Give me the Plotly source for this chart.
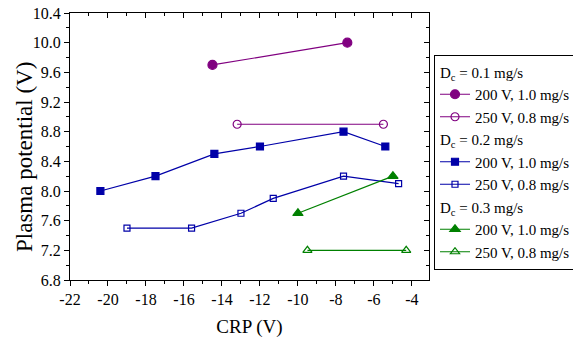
import plotly.graph_objects as go

# Data
p1_x = [-14.5, -7.4]
p1_y = [9.7, 10.0]
p2_x = [-13.2, -5.5]
p2_y = [8.9, 8.9]
b1_x = [-20.4, -17.5, -14.4, -12.0, -7.6, -5.4]
b1_y = [8.0, 8.2, 8.5, 8.6, 8.8, 8.6]
b2_x = [-19.0, -15.6, -13.0, -11.3, -7.6, -4.7]
b2_y = [7.5, 7.5, 7.7, 7.9, 8.2, 8.1]
g1_x = [-10.0, -5.0]
g1_y = [7.7, 8.2]
g2_x = [-9.5, -4.3]
g2_y = [7.2, 7.2]

x_tick_vals = [-22, -20, -18, -16, -14, -12, -10, -8, -6, -4]
x_tick_text = ["-22", "-20", "-18", "-16", "-14", "-12", "-10", "-8", "-6", "-4"]
y_tick_vals = [6.8, 7.2, 7.6, 8.0, 8.4, 8.8, 9.2, 9.6, 10.0, 10.4]
y_tick_text = ["6.8", "7.2", "7.6", "8.0", "8.4", "8.8", "9.2", "9.6", "10.0", "10.4"]

groups = ["D<sub>c</sub> = 0.1 mg/s", "D<sub>c</sub> = 0.2 mg/s", "D<sub>c</sub> = 0.3 mg/s"]
names = ["200 V, 1.0 mg/s", "250 V, 0.8 mg/s"]

PURPLE = "#800080"
BLUE = "#0000A8"
GREEN = "#008000"
FONT = "Liberation Serif"

fig = go.Figure()

def add(x, y, color, symbol, size, name, group, gtitle):
    fig.add_trace(go.Scatter(
        x=x, y=y, mode="lines+markers", name=name,
        line=dict(color=color, width=1.2),
        marker=dict(color=color, symbol=symbol, size=size,
                    line=dict(color=color, width=1.2)),
        legendgroup=group,
        legendgrouptitle=dict(text=gtitle, font=dict(size=15, family=FONT, color="black")),
    ))

add(p1_x, p1_y, PURPLE, "circle", 9, names[0], "g1", groups[0])
add(p2_x, p2_y, PURPLE, "circle-open", 8, names[1], "g1", groups[0])
add(b1_x, b1_y, BLUE, "square", 7, names[0], "g2", groups[1])
add(b2_x, b2_y, BLUE, "square-open", 6, names[1], "g2", groups[1])
add(g1_x, g1_y, GREEN, "triangle-up", 9, names[0], "g3", groups[2])
add(g2_x, g2_y, GREEN, "triangle-up-open", 8, names[1], "g3", groups[2])

# invisible trace on mirror axes
fig.add_trace(go.Scatter(x=[-22], y=[6.8], xaxis="x2", yaxis="y2", mode="markers",
                         marker=dict(opacity=0), showlegend=False, hoverinfo="skip"))

axis_common = dict(showline=True, linecolor="black", linewidth=1.2, showgrid=False, zeroline=False,
                   ticklen=5, tickwidth=1, tickcolor="black", automargin=False,
                   tickfont=dict(family=FONT, size=16, color="black"))

XR = [-22, -3.1]
YR = [6.8, 10.4]

fig.update_layout(
    width=573, height=340,
    margin=dict(l=70, r=144, t=13, b=60),
    plot_bgcolor="white", paper_bgcolor="white",
    font=dict(family=FONT, color="black"),
    xaxis=dict(range=XR, tickvals=x_tick_vals, ticktext=x_tick_text, ticks="outside",
               minor=dict(ticks="outside", ticklen=3, tickcolor="black", dtick=1, tick0=-22),
               title=dict(text="CRP (V)", font=dict(family=FONT, size=19), standoff=12),
               **axis_common),
    yaxis=dict(range=YR, tickvals=y_tick_vals, ticktext=y_tick_text, ticks="outside",
               minor=dict(ticks="outside", ticklen=3, tickcolor="black", dtick=0.2, tick0=6.8),
               **axis_common),
    xaxis2=dict(overlaying="x", side="top", range=XR, tickvals=x_tick_vals, ticks="inside",
                minor=dict(ticks="inside", ticklen=3, tickcolor="black", dtick=1, tick0=-22),
                showticklabels=False, **axis_common),
    yaxis2=dict(overlaying="y", side="right", range=YR, tickvals=y_tick_vals, ticks="inside",
                minor=dict(ticks="inside", ticklen=3, tickcolor="black", dtick=0.2, tick0=6.8),
                showticklabels=False, **axis_common),
    legend=dict(xref="container", yref="container",
                x=434 / 573, xanchor="left", y=1 - 162 / 340, yanchor="middle",
                bordercolor="black", borderwidth=1, bgcolor="white",
                font=dict(family=FONT, size=15, color="black"),
                tracegroupgap=0, itemwidth=30, maxheight=330),
    showlegend=True,
    annotations=[dict(text="Plasma potential (V)", textangle=-90, showarrow=False,
                      xref="paper", yref="paper", x=(24 - 70) / 359, y=(280 - 157) / 267,
                      xanchor="center", yanchor="middle",
                      font=dict(family=FONT, size=23, color="black"))],
)

fig.write_html("out.html", config={"displayModeBar": False},
               post_script="document.body.style.margin='0px';document.body.style.padding='0px';")
